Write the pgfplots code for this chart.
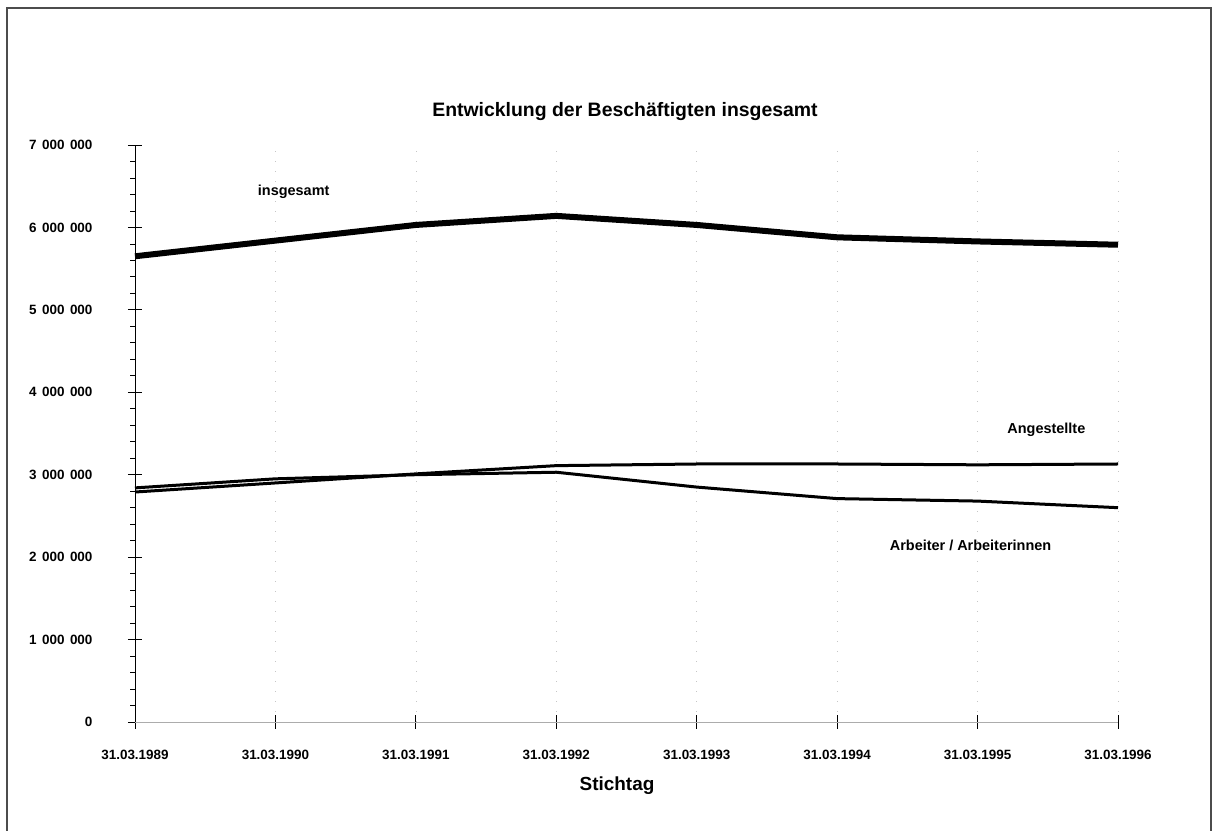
\documentclass[border=0pt]{standalone}
\usepackage{fontspec}
\setmainfont{Liberation Sans}
\usepackage{pgfplots}
\pgfplotsset{compat=1.18}
\newcommand{\ts}{\hspace{5.5bp}}
\begin{document}
\begin{tikzpicture}[x=1bp,y=1bp]
\useasboundingbox (0,0) rectangle (1218,831);
\draw[line width=1.2bp, black!70] (7,0) -- (7,823) -- (1211,823) -- (1211,0);
\node[font=\bfseries\fontsize{19.5}{22}\selectfont] at (625,719) {Entwicklung der Beschäftigten insgesamt};
\node[font=\bfseries\fontsize{19}{22}\selectfont] at (617,45) {Stichtag};
\begin{axis}[
  at={(135bp,109bp)}, anchor=south west,
  scale only axis, width=983bp, height=577bp,
  xmin=0, xmax=7, ymin=0, ymax=7000000,
  axis lines*=left,
  x axis line style={gray!65, line width=0.9bp},
  y axis line style={black, line width=1bp},
  xtick={0,1,2,3,4,5,6,7},
  xticklabels={31.03.1989,31.03.1990,31.03.1991,31.03.1992,31.03.1993,31.03.1994,31.03.1995,31.03.1996},
  ytick={0,1000000,2000000,3000000,4000000,5000000,6000000,7000000},
  yticklabels={0,1\ts000\ts000,2\ts000\ts000,3\ts000\ts000,4\ts000\ts000,5\ts000\ts000,6\ts000\ts000,7\ts000\ts000},
  minor y tick num=4,
  tick align=center,
  major tick length=14bp,
  minor tick length=5bp,
  every tick/.style={black, line width=0.8bp},
  minor y tick style={xshift=-2.5bp},
  xmajorgrids,
  major x grid style={gray!45, line width=0.5bp, dash pattern=on 1bp off 9bp},
  scaled y ticks=false,
  xticklabel style={font=\bfseries\fontsize{13.5}{15}\selectfont, yshift=-18bp},
  yticklabel style={font=\bfseries\fontsize{13.5}{15}\selectfont, xshift=-32bp},
  clip=false,
]
\addplot[black, line width=6bp, line join=round] coordinates {
 (0,5650000) (1,5840000) (2,6030000) (3,6140000) (4,6030000) (5,5880000) (6,5830000) (7,5790000)};
\addplot[black, line width=3bp, line join=round] coordinates {
 (0,2790000) (1,2900000) (2,3010000) (3,3110000) (4,3130000) (5,3130000) (6,3120000) (7,3130000)};
\addplot[black, line width=3bp, line join=round] coordinates {
 (0,2840000) (1,2950000) (2,3000000) (3,3030000) (4,2850000) (5,2710000) (6,2680000) (7,2600000)};
\node[font=\bfseries\fontsize{14.5}{16}\selectfont] at (axis cs:1.13,6430000) {insgesamt};
\node[font=\bfseries\fontsize{14.5}{16}\selectfont] at (axis cs:6.49,3540000) {Angestellte};
\node[font=\bfseries\fontsize{14.5}{16}\selectfont] at (axis cs:5.95,2140000) {Arbeiter / Arbeiterinnen};
\end{axis}
\end{tikzpicture}
\end{document}
